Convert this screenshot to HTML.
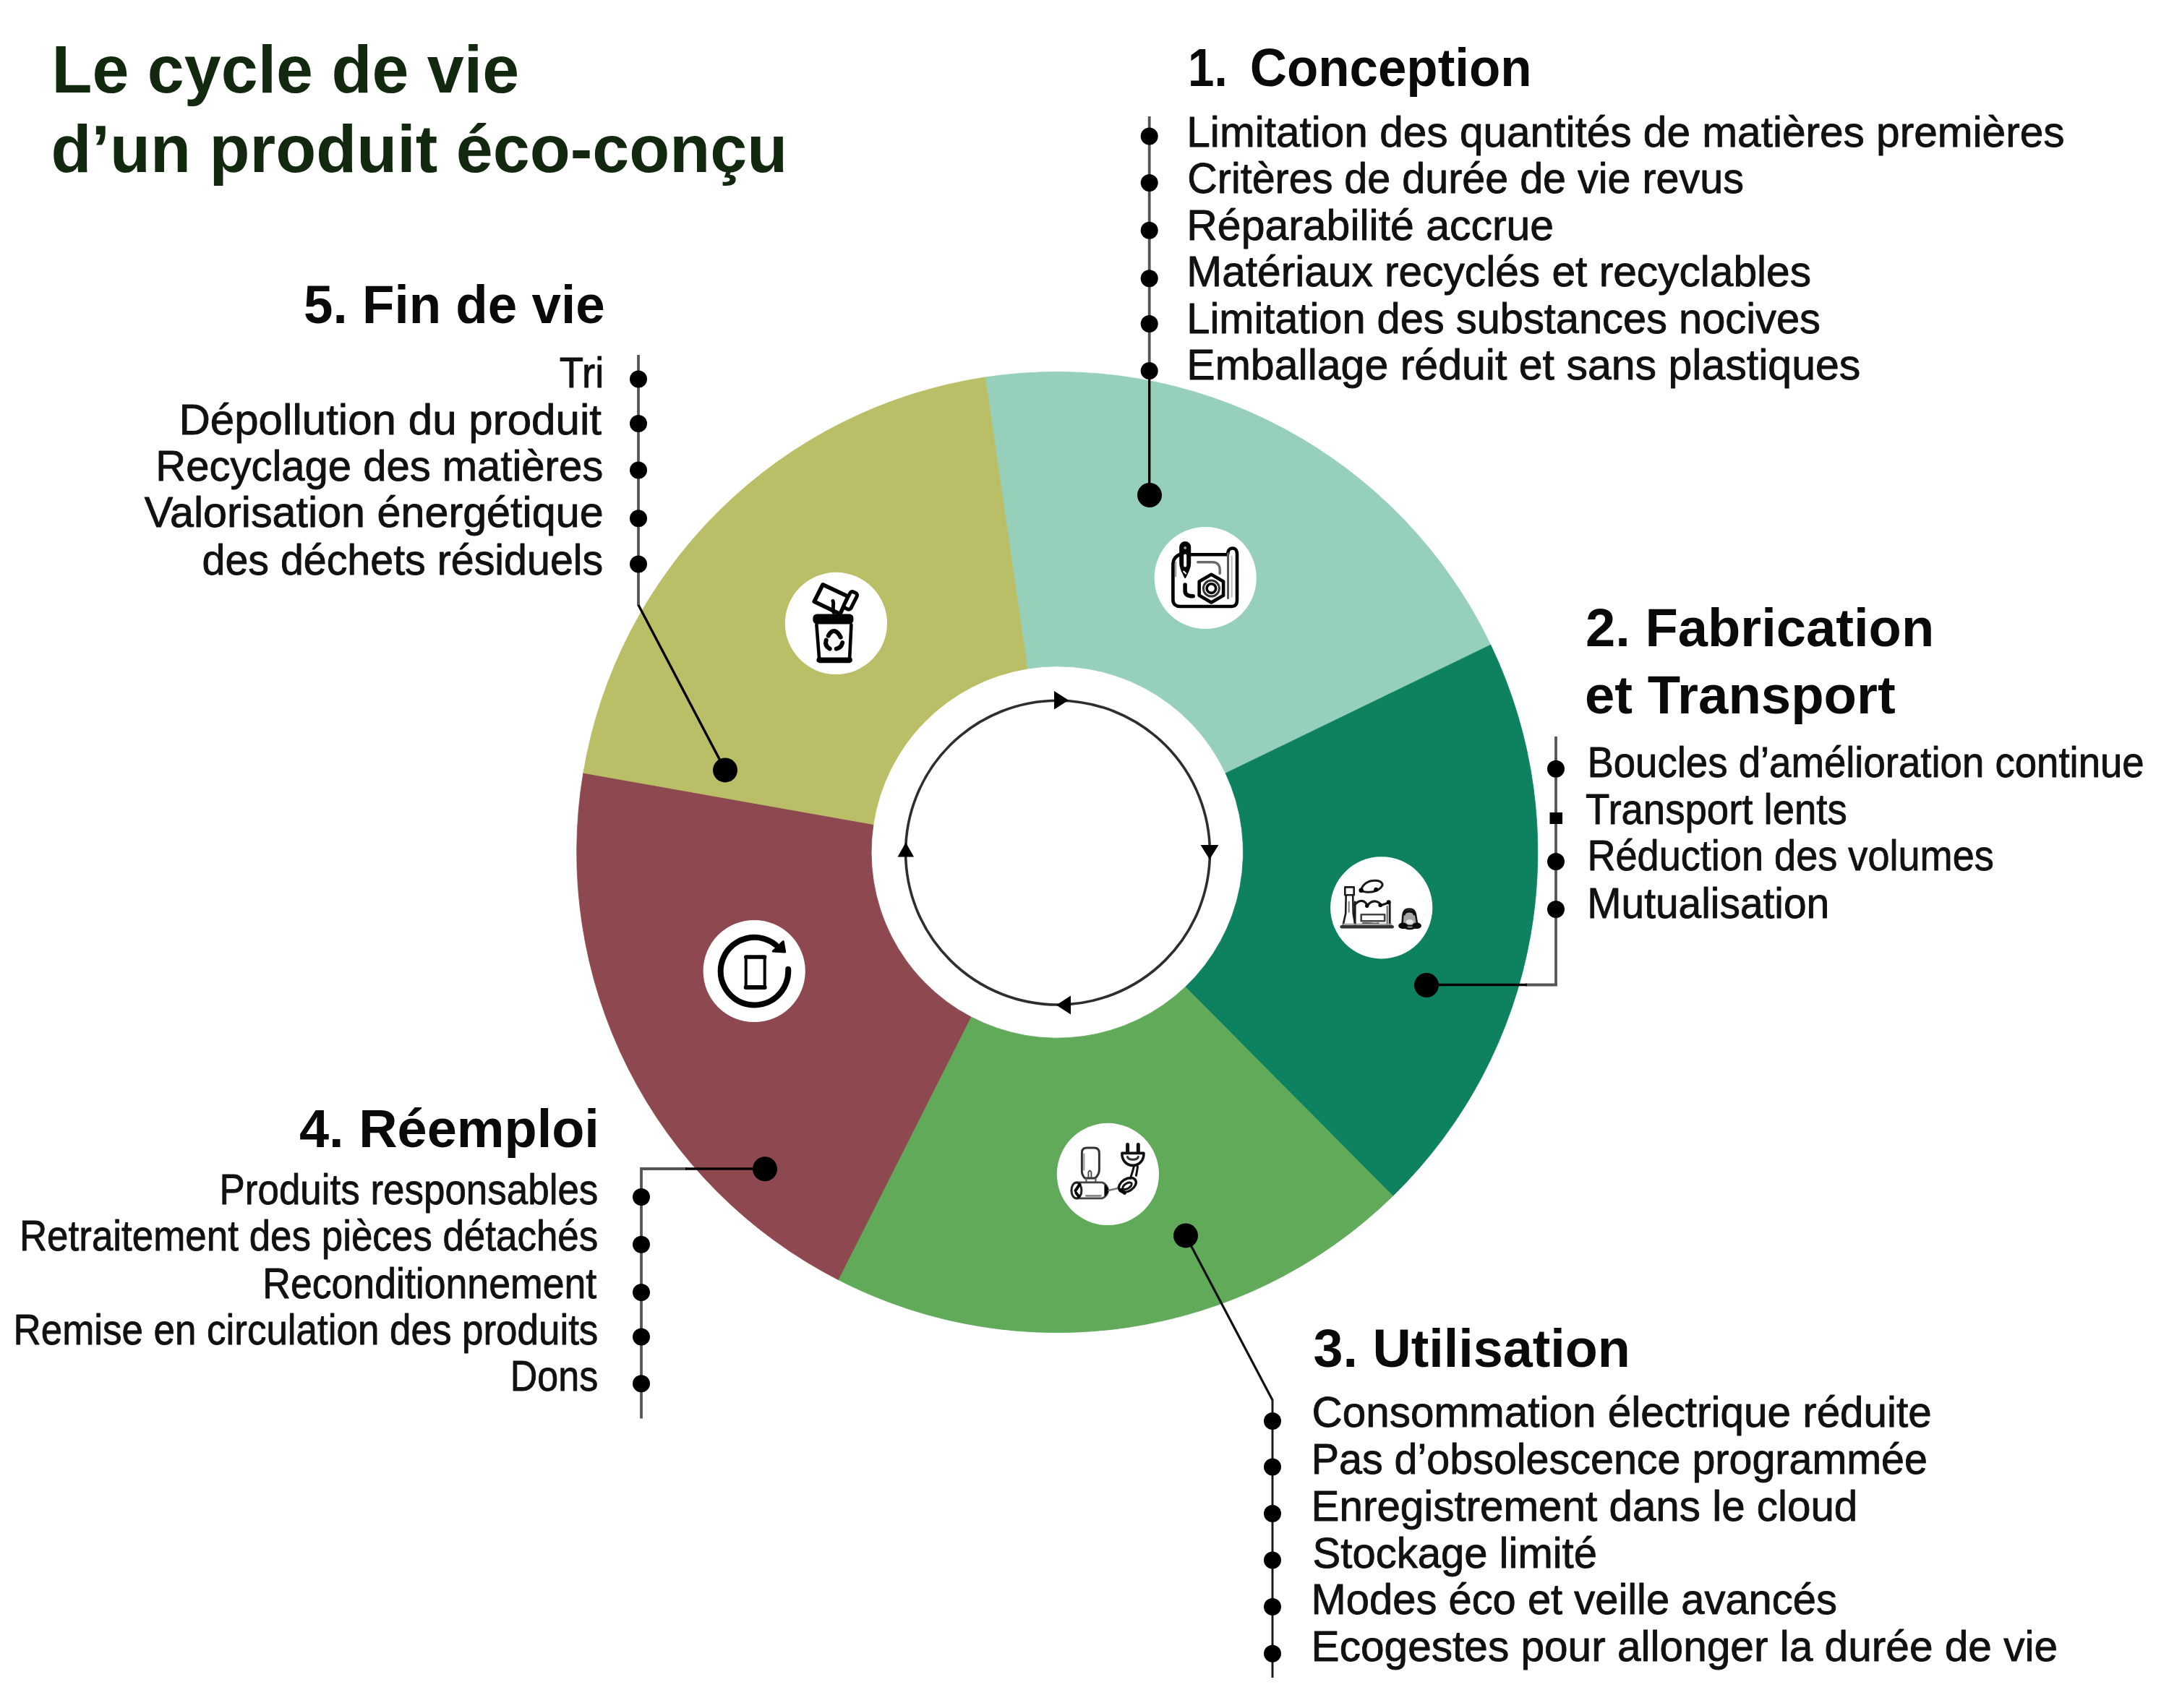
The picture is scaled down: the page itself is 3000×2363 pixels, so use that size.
<!DOCTYPE html>
<html lang="fr"><head><meta charset="utf-8"><title>Le cycle de vie d'un produit éco-conçu</title>
<style>html,body{margin:0;padding:0;background:#fff}body{width:3000px;height:2363px;overflow:hidden}svg{display:block}text{font-family:"Liberation Sans",sans-serif}.b{font-size:60px;fill:#111;stroke:#111;stroke-width:.9px;stroke-linejoin:round}.h{font-size:74px;font-weight:bold;fill:#0a0a0a}.t{font-size:92px;font-weight:bold;fill:#12280F}</style></head><body>
<svg width="3000" height="2363" viewBox="0 0 3000 2363">
<rect width="3000" height="2363" fill="#fff"/>
<g id="donut">
<path d="M1362.57 521.92A664.6 664.6 0 0 1 2061.81 892.15L1695.17 1069.81A257.2 257.2 0 0 0 1421.05 925.13Z" fill="#96D0BA" stroke="#96D0BA" stroke-width="0.8"/>
<path d="M2061.81 892.15A664.6 664.6 0 0 1 1926.47 1654.65L1639.44 1365.47A257.2 257.2 0 0 0 1695.17 1069.81Z" fill="#0E8161" stroke="#0E8161" stroke-width="0.8"/>
<path d="M1926.47 1654.65A664.6 664.6 0 0 1 1159.34 1770.53L1342.86 1406.79A257.2 257.2 0 0 0 1639.44 1365.47Z" fill="#60AA5A" stroke="#60AA5A" stroke-width="0.8"/>
<path d="M1159.34 1770.53A664.6 664.6 0 0 1 806.81 1069.31L1207.99 1140.54A257.2 257.2 0 0 0 1342.86 1406.79Z" fill="#8E484F" stroke="#8E484F" stroke-width="0.8"/>
<path d="M806.81 1069.31A664.6 664.6 0 0 1 1362.57 521.92L1421.05 925.13A257.2 257.2 0 0 0 1207.99 1140.54Z" fill="#BABF67" stroke="#BABF67" stroke-width="0.8"/>
</g>
<circle cx="1463" cy="1179.6" r="210.4" fill="none" stroke="#2e2e2e" stroke-width="3.6"/>
<g fill="#000">
<path d="M1458 956L1478 968.7L1458 981.5Z"/>
<path d="M1660.5 1169L1685.5 1169L1673 1189Z"/>
<path d="M1481 1377.5L1461 1390.4L1481 1403.5Z"/>
<path d="M1241.5 1185.5L1264 1185.5L1252.8 1165.5Z"/>
</g>
<g id="links" fill="none" stroke-linecap="butt" stroke-linejoin="miter">
<path d="M1589.7 161V513" stroke="#555" stroke-width="3.8"/>
<path d="M1589.7 513V685" stroke="#000" stroke-width="3.4"/>
<path d="M2152 1019V1362.5H2110" stroke="#555" stroke-width="3.8"/>
<path d="M2112 1362.5H1973" stroke="#000" stroke-width="3.4"/>
<path d="M1640 1709.4L1760 1937" stroke="#111" stroke-width="3.2"/>
<path d="M1760 1936V2321" stroke="#1a1a1a" stroke-width="3"/>
<path d="M887 1962.5V1617H950" stroke="#555" stroke-width="3.8"/>
<path d="M948 1617H1058" stroke="#000" stroke-width="3.4"/>
<path d="M883 491V838" stroke="#555" stroke-width="3.8"/>
<path d="M883 837L1003 1065.4" stroke="#000" stroke-width="3.4"/>
</g>
<g id="dots" fill="#000">
<circle cx="1589.7" cy="188.5" r="12"/><circle cx="1589.7" cy="253" r="12"/><circle cx="1589.7" cy="318.8" r="12"/><circle cx="1589.7" cy="385.3" r="12"/><circle cx="1589.7" cy="448" r="12"/><circle cx="1589.7" cy="513" r="12"/>
<circle cx="2152" cy="1063.7" r="12"/><circle cx="2152" cy="1192" r="12"/><circle cx="2152" cy="1258" r="12"/>
<rect x="2143.5" y="1124" width="17.5" height="16"/>
<circle cx="1760" cy="1966" r="12"/><circle cx="1760" cy="2029.5" r="12"/><circle cx="1760" cy="2094" r="12"/><circle cx="1760" cy="2158.6" r="12"/><circle cx="1760" cy="2223" r="12"/><circle cx="1760" cy="2287.7" r="12"/>
<circle cx="887" cy="1656" r="12"/><circle cx="887" cy="1721.8" r="12"/><circle cx="887" cy="1788" r="12"/><circle cx="887" cy="1849.6" r="12"/><circle cx="887" cy="1914.3" r="12"/>
<circle cx="883" cy="524.6" r="12"/><circle cx="883" cy="586" r="12"/><circle cx="883" cy="650.5" r="12"/><circle cx="883" cy="717.3" r="12"/><circle cx="883" cy="780.5" r="12"/>
<circle cx="1590" cy="685" r="17"/>
<circle cx="1973" cy="1363" r="17"/>
<circle cx="1640" cy="1709.4" r="17"/>
<circle cx="1058" cy="1617.3" r="17"/>
<circle cx="1003" cy="1065.4" r="17"/>
</g>
<g id="discs" fill="#fff">
<circle cx="1667.2" cy="799.5" r="70.6"/>
<circle cx="1910.7" cy="1255.8" r="70.6"/>
<circle cx="1532.4" cy="1624.4" r="70.6"/>
<circle cx="1043.2" cy="1343.5" r="70.6"/>
<circle cx="1156.4" cy="862.4" r="70.6"/>
</g>
<g id="icons" fill="none" stroke="#000" stroke-linecap="round" stroke-linejoin="round">
<!-- 1 plan / blueprint -->
<g transform="translate(1667.2 799.5)">
<path d="M-21 -32.2H30.5" stroke-width="4.6"/>
<path d="M-34 -33C-40.5 -30.5 -44.6 -27 -44.8 -20V30.5C-44.8 36.5 -40.5 39.3 -35 39.5H37C42 39.3 43.8 35.5 43.8 30.5V-33C43.8 -38 41.5 -41 37.6 -41C33.6 -41 31 -38 31 -33" stroke-width="4.6"/>
<path d="M31.3 -34V28" stroke="#555" stroke-width="3"/>
<path d="M36.5 -30V26" stroke="#bbb" stroke-width="2"/>
<path d="M-41 -22V-2" stroke="#999" stroke-width="2"/>
<!-- pen -->
<path d="M-35 -42.5a7 7 0 0 1 14 0v22c0 8 -4 14 -7 20c-3 -6 -7 -12 -7 -20z" fill="#000" stroke-width="2"/>
<path d="M-28 -31V-17" stroke="#fff" stroke-width="4"/>
<circle cx="-28" cy="-41.5" r="2" fill="#999" stroke="none"/>
<path d="M-30 -9l3 3" stroke="#fff" stroke-width="2"/>
<!-- inner lines -->
<path d="M-10.5 -21.7H10C17 -21.7 20 -17 20 -11V-6" stroke="#6a6a6a" stroke-width="3.4"/>
<path d="M-28.1 9.5V18C-28.1 23 -24 25.3 -17 25.3" stroke-width="5.5"/>
<!-- nut -->
<path d="M8.2 -4.7L24.9 4.9V24.3L8.2 33.9L-8.5 24.3V4.9Z" stroke-width="4.6"/>
<circle cx="8.2" cy="14.6" r="11" stroke="#333" stroke-width="3"/>
<circle cx="8.2" cy="14.6" r="6.3" stroke-width="3.6"/>
</g>
<!-- 5 bin -->
<g transform="translate(1156.4 862.4)">
<path d="M-18.4 -53.6L16.7 -37.2L5.6 -13L-30.2 -30.2Z" fill="#fff" stroke-width="5.6"/>
<path d="M-4.4 -31C-2 -26 -6 -22 -3.2 -15" stroke-width="5"/>
<g transform="rotate(27 20 -31)"><rect x="14.5" y="-44" width="10.5" height="25" rx="3.5" fill="#fff" stroke-width="5"/></g>
<rect x="-32" y="-13" width="56" height="14" rx="5.5" fill="#000" stroke="none"/>
<path d="M-27 2L-23 52.5H18.5L21 2" stroke-width="4.6"/>
<path d="M-23.5 50.5H19" stroke-width="7"/>
<g transform="translate(-3.2 23.7)" stroke-width="6">
<path d="M-7.5 -6.5Q-3.5 -14 1.5 -13Q6 -11.5 9.5 -4.5"/>
<path d="M12 3Q10.5 10 3.5 11.5"/>
<path d="M-10.5 -0.5Q-13 7.5 -5.5 11.5"/>
</g>
</g>
<!-- 2 factory -->
<g transform="translate(1910.7 1255.8)" stroke="#1a1a1a">
<path d="M-50.4 -28.4H-38V-17.5H-50.4Z" stroke-width="2.6"/>
<path d="M-49 -17.5L-49.5 8L-53.5 26M-39.5 -17.5L-39 8L-36 26" stroke-width="2.6"/>
<path d="M-45 -8V6" stroke="#777" stroke-width="2"/>
<path d="M-37 -4C-32 -10 -27 -10 -24 -8.5C-21.5 -7 -20 -4 -20 -2C-16 -8 -11 -9.5 -7 -8.5C-3 -7.5 -1.5 -5 -1 -3L10 -7" stroke-width="3.2"/>
<circle cx="-20" cy="-2.5" r="2.6" fill="#000" stroke="none"/>
<circle cx="-1.5" cy="-3.5" r="2.8" fill="#000" stroke="none"/>
<circle cx="10" cy="-7.5" r="3" fill="#000" stroke="none"/>
<path d="M-36.5 -8V26M11.5 -6V26" stroke-width="2.8"/>
<path d="M8 -2V24" stroke="#666" stroke-width="2"/>
<path d="M-28 9.5H4.5V18.5H-28Z" stroke="#444" stroke-width="2.6"/>
<path d="M-26 21.5C-18 20 -12 23 -4 21.5" stroke="#555" stroke-width="2"/>
<path d="M-55 26.5H15" stroke="#333" stroke-width="4.6"/>
<path d="M-54 23H14" stroke="#999" stroke-width="2"/>
<!-- smoke -->
<path d="M-28 -24.5C-26 -33 -18 -38 -8 -37.5C0 -37 3 -33 0.5 -29.5C-3 -24 -12 -21 -20 -21.5C-24 -22 -27 -23 -28 -24.5Z" stroke-width="3"/>
<circle cx="-28" cy="-24" r="3.2" fill="#000" stroke="none"/>
<circle cx="-7.5" cy="-25" r="3" fill="#000" stroke="none"/>
<!-- figure -->
<path d="M28.5 23C30 17 28.5 10 31 5.5C33.5 0.5 43.5 0.5 46 5.5C48.5 10 47.5 17 50 23C45 26 34 26 28.5 23Z" fill="#a6a6a6" stroke="#1a1a1a" stroke-width="2.6"/>
<path d="M31.5 9C33 3.5 44 3.5 45.5 9" stroke="#111" stroke-width="3.4"/>
<ellipse cx="39.2" cy="19.5" rx="5.2" ry="3.4" fill="#e4e4e4" stroke="none"/>
<ellipse cx="29.8" cy="25" rx="6.4" ry="4.3" fill="#0a0a0a" stroke="none"/>
<ellipse cx="48.9" cy="25" rx="6.4" ry="4.3" fill="#0a0a0a" stroke="none"/>
<path d="M33 27.5C37 29.5 41 29.5 45.5 27.5" stroke="#111" stroke-width="3"/>
</g>
<!-- 4 phone + cycle -->
<g transform="translate(1043.2 1343.5)">
<path d="M47 -2.4A46.8 46.8 0 1 1 30 -36" stroke-width="8"/>
<path d="M40 -41L42.5 -26.5L26 -27.5Z" fill="#000" stroke-width="3"/>
<rect x="-11.5" y="-19.5" width="26" height="42.5" rx="1.5" stroke-width="4"/>
<path d="M-11.5 -19.5H14.5" stroke-width="5.4"/>
<path d="M-11.5 22.5H14.5" stroke-width="6"/>
</g>
<!-- 3 plug -->
<g transform="translate(1532.4 1624.4)" stroke="#222">
<path d="M-36 -30C-36 -35 -33 -36.5 -29 -36.5H-19C-14 -36.5 -12 -34 -12 -29V-6C-12 0 -15 3 -17.5 5.5H-32C-34.5 3 -36.5 0 -36 -6Z" stroke="#333" stroke-width="3"/>
<path d="M-33 -28V-6" stroke="#999" stroke-width="2"/>
<path d="M-27 5V-3L-25 -5L-23 -3V5" stroke="#444" stroke-width="1.8"/>
<path d="M-30 6.5V11.5H-17V6.5" stroke="#666" stroke-width="2.4"/>
<path d="M-43 11.5H-8C-3 13 0 18 0 22.5C0 27 -3 32 -8 33.5H-43" stroke="#444" stroke-width="2.8"/>
<ellipse cx="-43.5" cy="22.5" rx="7" ry="11" stroke-width="3"/>
<path d="M-39 14l-6 9M-40 31l-4 -5" stroke="#000" stroke-width="4"/>
<path d="M-4 15.5L1 22.5L-4 29.5Z" fill="#000" stroke="#000" stroke-width="2"/>
<path d="M-30 30H-10" stroke="#888" stroke-width="2.6"/>
<path d="M1 22.5C6 21 10 21 15 19" stroke="#777" stroke-width="2.6"/>
<g transform="rotate(-32 27 15)">
<ellipse cx="27" cy="15" rx="13" ry="8.5" stroke="#111" stroke-width="3.4"/>
<ellipse cx="26" cy="16" rx="7" ry="3.6" stroke="#111" stroke-width="3"/>
</g>
<path d="M18 22l5 4" stroke="#000" stroke-width="5"/>
<path d="M31 6C33 0 35 -6 36 -11M39 2C40 -3 41 -8 41 -11" stroke="#111" stroke-width="3"/>
<path d="M19.5 -29H49.5C50 -20 44 -12 34.5 -12C25 -12 19 -20 19.5 -29Z" stroke="#111" stroke-width="3.6"/>
<path d="M27 -24C28 -19 41 -19 42 -24" stroke="#333" stroke-width="3"/>
<path d="M27.2 -41V-30M41.9 -41V-30" stroke="#111" stroke-width="5"/>
</g>
</g>

<g id="txt">
<text class="t" x="71.5" y="128.4" textLength="646.6" lengthAdjust="spacingAndGlyphs">Le cycle de vie</text>
<text class="t" x="70.6" y="238.0" textLength="1018.6" lengthAdjust="spacingAndGlyphs">d’un produit éco-conçu</text>
<text class="h" x="1643.1" y="119.2" textLength="54.6" lengthAdjust="spacingAndGlyphs">1.</text>
<text class="h" x="1728.8" y="119.2" textLength="389.7" lengthAdjust="spacingAndGlyphs">Conception</text>
<text class="b" x="1641.3" y="202.7" textLength="1214.2" lengthAdjust="spacingAndGlyphs">Limitation des quantités de matières premières</text>
<text class="b" x="1642.3" y="267.3" textLength="769.6" lengthAdjust="spacingAndGlyphs">Critères de durée de vie revus</text>
<text class="b" x="1641.3" y="331.8" textLength="507.8" lengthAdjust="spacingAndGlyphs">Réparabilité accrue</text>
<text class="b" x="1641.3" y="396.3" textLength="863.7" lengthAdjust="spacingAndGlyphs">Matériaux recyclés et recyclables</text>
<text class="b" x="1641.3" y="460.8" textLength="876.6" lengthAdjust="spacingAndGlyphs">Limitation des substances nocives</text>
<text class="b" x="1641.3" y="525.3" textLength="932.1" lengthAdjust="spacingAndGlyphs">Emballage réduit et sans plastiques</text>
<text class="h" x="2193.0" y="894.3" textLength="482.2" lengthAdjust="spacingAndGlyphs">2. Fabrication</text>
<text class="h" x="2192.0" y="987.1" textLength="429.7" lengthAdjust="spacingAndGlyphs">et Transport</text>
<text class="b" x="2195.4" y="1075.2" textLength="770.3" lengthAdjust="spacingAndGlyphs">Boucles d’amélioration continue</text>
<text class="b" x="2193.1" y="1139.6" textLength="361.7" lengthAdjust="spacingAndGlyphs">Transport lents</text>
<text class="b" x="2195.4" y="1204.3" textLength="562.4" lengthAdjust="spacingAndGlyphs">Réduction des volumes</text>
<text class="b" x="2195.2" y="1270.3" textLength="335.0" lengthAdjust="spacingAndGlyphs">Mutualisation</text>
<text class="h" x="1816.5" y="1891.3" textLength="438.3" lengthAdjust="spacingAndGlyphs">3. Utilisation</text>
<text class="b" x="1814.6" y="1974.0" textLength="857.2" lengthAdjust="spacingAndGlyphs">Consommation électrique réduite</text>
<text class="b" x="1813.7" y="2038.6" textLength="852.3" lengthAdjust="spacingAndGlyphs">Pas d’obsolescence programmée</text>
<text class="b" x="1813.6" y="2104.3" textLength="755.7" lengthAdjust="spacingAndGlyphs">Enregistrement dans le cloud</text>
<text class="b" x="1815.6" y="2168.9" textLength="393.4" lengthAdjust="spacingAndGlyphs">Stockage limité</text>
<text class="b" x="1813.6" y="2233.3" textLength="727.3" lengthAdjust="spacingAndGlyphs">Modes éco et veille avancés</text>
<text class="b" x="1813.6" y="2298.0" textLength="1032.5" lengthAdjust="spacingAndGlyphs">Ecogestes pour allonger la durée de vie</text>
<text class="h" x="414.0" y="1586.7" textLength="414.9" lengthAdjust="spacingAndGlyphs">4. Réemploi</text>
<text class="b" x="303.5" y="1665.5" textLength="523.8" lengthAdjust="spacingAndGlyphs">Produits responsables</text>
<text class="b" x="26.9" y="1730.3" textLength="800.4" lengthAdjust="spacingAndGlyphs">Retraitement des pièces détachés</text>
<text class="b" x="363.2" y="1795.5" textLength="462.0" lengthAdjust="spacingAndGlyphs">Reconditionnement</text>
<text class="b" x="18.5" y="1860.3" textLength="808.8" lengthAdjust="spacingAndGlyphs">Remise en circulation des produits</text>
<text class="b" x="705.8" y="1923.9" textLength="121.4" lengthAdjust="spacingAndGlyphs">Dons</text>
<text class="h" x="420.0" y="447.2" textLength="416.7" lengthAdjust="spacingAndGlyphs">5. Fin de vie</text>
<text class="b" x="773.8" y="535.6" textLength="61.5" lengthAdjust="spacingAndGlyphs">Tri</text>
<text class="b" x="247.4" y="601.0" textLength="584.6" lengthAdjust="spacingAndGlyphs">Dépollution du produit</text>
<text class="b" x="215.3" y="664.7" textLength="618.9" lengthAdjust="spacingAndGlyphs">Recyclage des matières</text>
<text class="b" x="199.8" y="729.3" textLength="634.8" lengthAdjust="spacingAndGlyphs">Valorisation énergétique</text>
<text class="b" x="279.5" y="794.7" textLength="554.7" lengthAdjust="spacingAndGlyphs">des déchets résiduels</text>
</g>
</svg></body></html>
